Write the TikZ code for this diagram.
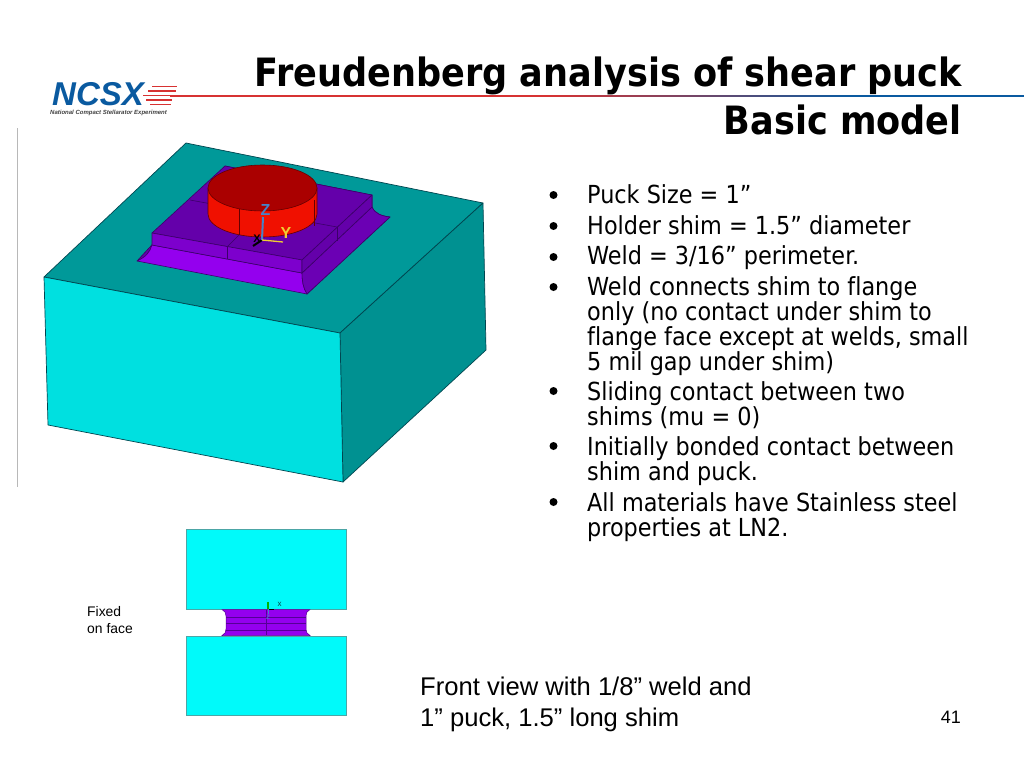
\documentclass[tikz,border=0pt]{standalone}
\usepackage{fontspec}
\setmainfont{Liberation Sans}
\newfontfamily\tahomalike[Ligatures=NoCommon]{DejaVu Sans Condensed}
\usetikzlibrary{calc}
\definecolor{topteal}{RGB}{0,153,153}
\definecolor{sideteal}{RGB}{0,145,145}
\definecolor{frontcyan}{RGB}{0,224,224}
\definecolor{edgeteal}{RGB}{0,70,80}
\definecolor{ltcyan}{RGB}{0,250,250}
\definecolor{purpA}{RGB}{148,0,238}
\definecolor{purpB}{RGB}{125,0,205}
\definecolor{purpC}{RGB}{100,0,170}
\definecolor{purpD}{RGB}{85,0,150}
\definecolor{redA}{RGB}{170,0,0}
\definecolor{redB}{RGB}{240,16,0}
\definecolor{ncsxblue}{RGB}{10,90,160}
\definecolor{ncsxred}{RGB}{215,50,50}
\definecolor{triadz}{RGB}{70,130,200}
\definecolor{triady}{RGB}{240,205,50}
\tikzset{
 x=1pt,y=-1pt,
 facet/.style={draw=edgeteal,line width=0.7pt,line join=round},
 pface/.style={draw=purpD!70!black,line width=0.6pt,line join=round},
 title/.style={font=\tahomalike\fontsize{39}{48}\selectfont\bfseries,anchor=base east,inner sep=0pt},
 bodyt/.style={font=\tahomalike\fontsize{24.85}{25}\selectfont,anchor=base west,inner sep=0pt},
 small/.style={font=\fontsize{13.9}{17}\selectfont,anchor=west,inner sep=0pt,align=left},
 caption/.style={font=\fontsize{25.6}{31}\selectfont,anchor=base west,inner sep=0pt},
 bar/.style={ncsxred,line width=1.6pt},
}
\begin{document}
\begin{tikzpicture}
\useasboundingbox (0,0) rectangle (1024,768);
\fill[white] (0,0) rectangle (1024,768);
% header
\fill[ncsxred] (170,94.5) rectangle (550,96.5);
\foreach \k in {0,...,29}{
  \pgfmathsetmacro{\mixv}{100-(\k+0.5)*100/30}
  \pgfmathsetmacro{\xs}{550+10*\k}
  \pgfmathsetmacro{\xe}{560.3+10*\k}
  \fill[ncsxred!\mixv!ncsxblue] (\xs,94.5) rectangle (\xe,96.5);
}
\fill[ncsxblue] (850,94.5) rectangle (1024,96.5);
\node[inner sep=0pt,anchor=base west,text=ncsxblue,font=\fontsize{33}{33}\selectfont\bfseries\itshape] (ncsx) at (52,105.5) {NCSX};
\foreach \yy/\xa/\xb in {86.5/152/177,91/148/176,95.5/143/174,100/146/172,104.5/150/171}
  \draw[bar] (\xa,\yy) -- (\xb,\yy);
\node[inner sep=0pt,anchor=base west,font=\fontsize{6}{6}\selectfont\bfseries\itshape,text=black!75] (sub) at (50,114.5) {National Compact Stellarator Experiment};
\node[title] (t1) at (962,86) {Freudenberg analysis of shear puck};
\node[title] (t2) at (962,134) {Basic model};
\draw[black!28,line width=0.8pt] (17.5,128) -- (17.5,487);
% block
\filldraw[facet,fill=topteal] (186,143) -- (483,203) -- (340,333) -- (44,277) -- cycle;
\filldraw[facet,fill=sideteal] (483,203) -- (486,350) -- (343,482) -- (340,333) -- cycle;
\filldraw[facet,fill=frontcyan] (44,277) -- (340,333) -- (343,482) -- (48,425) -- cycle;
% weld
\filldraw[pface,fill=purpC] (225,166) -- (372,195) -- (372,207) .. controls (375,214) and (382,216) .. (390,217) -- (307,294) .. controls (303,288) and (302,280) .. (302,273) -- (152,245) .. controls (150,252) and (146,257) .. (137,261) -- cycle;
\filldraw[pface,fill=purpA] (137,261) .. controls (146,257) and (150,252) .. (152,245) -- (302,273) .. controls (302,280) and (303,288) .. (307,294) -- cycle;
\filldraw[pface,fill=purpC!85!purpA] (302,273) .. controls (302,280) and (303,288) .. (307,294) -- (390,217) .. controls (382,216) and (375,214) .. (372,207) -- cycle;
% shim
\filldraw[pface,fill=purpC] (225,166) -- (372,195) -- (302,260) -- (152,233) -- cycle;
\filldraw[pface,fill=purpB] (152,233) -- (302,260) -- (302,273) -- (152,245) -- cycle;
\filldraw[pface,fill=purpC] (302,260) -- (372,195) -- (372,207) -- (302,273) -- cycle;
\draw[pface] (190,200) -- (337,227);
\draw[pface] (227,247) -- (227,259);
\draw[pface] (227,247) -- (262,212);
\draw[pface] (337,227) -- (337,241);
% puck
\filldraw[draw=redA!60!black,line width=0.6pt,fill=redB] (208,188) -- (208,214) arc[start angle=180,end angle=360,x radius=54.5,y radius=-23] -- (317,188) -- cycle;
\filldraw[draw=redA!60!black,line width=0.6pt,fill=redA] (262.5,188) ellipse[x radius=54.5,y radius=23];
\draw[redA!60!black,line width=0.5pt] (239,209) -- (239,235);
\draw[redA!60!black,line width=0.5pt] (314,200) -- (314,226);
% triad
\coordinate (o) at (262,240);
\draw[black,line width=2pt] (o) -- (253,246);
\draw[triadz,line width=2pt] (o) -- (263,217);
\draw[triady,line width=1.3pt] (o) -- (283,242);
\node[inner sep=0pt,font=\fontsize{11}{11}\selectfont\bfseries,text=black] (xl3) at (257,239) {X};
\node[inner sep=0pt,font=\fontsize{16}{16}\selectfont\bfseries,text=triadz] (zl) at (265.5,210) {Z};
\node[inner sep=0pt,font=\fontsize{16}{16}\selectfont\bfseries,text=triady] (yl) at (286,233) {Y};
% bullets + text
\foreach \yb in {195,226,257,287,391,446,502}
  \fill[black] (553.5,\yb) circle[radius=4];
\node[bodyt] (b1) at (587,203) {Puck Size = 1”};
\node[bodyt] (b2) at (587,234) {Holder shim = 1.5” diameter};
\node[bodyt] (b3) at (587,264) {Weld = 3/16” perimeter.};
\node[bodyt] (b4) at (587,295) {Weld connects shim to flange};
\node[bodyt] (b5) at (587,320) {only (no contact under shim to};
\node[bodyt] (b6) at (587,345) {flange face except at welds, small};
\node[bodyt] (b7) at (587,370) {5 mil gap under shim)};
\node[bodyt] (b8) at (587,400) {Sliding contact between two};
\node[bodyt] (b9) at (587,425) {shims (mu = 0)};
\node[bodyt] (b10) at (587,455) {Initially bonded contact between};
\node[bodyt] (b11) at (587,480) {shim and puck.};
\node[bodyt] (b12) at (587,511) {All materials have Stainless steel};
\node[bodyt] (b13) at (587,536) {properties at LN2.};
% front view
\filldraw[draw=teal!70,line width=0.6pt,fill=ltcyan] (186,529) rectangle (346,609);
\filldraw[draw=teal!70,line width=0.6pt,fill=ltcyan] (186,636) rectangle (346,715);
\filldraw[draw=purpD,line width=0.5pt,fill=purpA] (222,609.5) .. controls (225,611) and (226,613) .. (226,616) -- (226,629) .. controls (226,632) and (225,634) .. (222,635.5) -- (310,635.5) .. controls (307,634) and (306,632) .. (306,629) -- (306,616) .. controls (306,613) and (307,611) .. (310,609.5) -- cycle;
\foreach \yy in {617,623,630}
  \draw[purpD,line width=0.5pt] (226,\yy) -- (306,\yy);
\draw[purpD,line width=0.4pt] (266,610) -- (266,635);
\draw[green!70!black,line width=1.2pt] (268,609) -- (268,602);
\draw[black,line width=0.8pt] (268,609) -- (274,609);
\draw[triadz,line width=0.8pt] (268,609) -- (268,614);
\node[inner sep=0pt,font=\fontsize{8}{8}\selectfont,text=teal!60!black] (xl) at (279.5,604.5) {x};
\node[inner sep=0pt,font=\fontsize{8}{8}\selectfont,text=triadz] (zl2) at (268,617) {z};
\node[small] (fix) at (87,622) {\begin{tabular}{@{}l@{}}Fixed\\on face\end{tabular}};
\node[caption] (c1) at (420,695) {Front view with 1/8” weld and};
\node[caption] (c2) at (420,726) {1” puck, 1.5” long shim};
\node[inner sep=0pt,font=\fontsize{18}{18}\selectfont,anchor=base east] (pg) at (961,723) {41};
\end{tikzpicture}
\end{document}
